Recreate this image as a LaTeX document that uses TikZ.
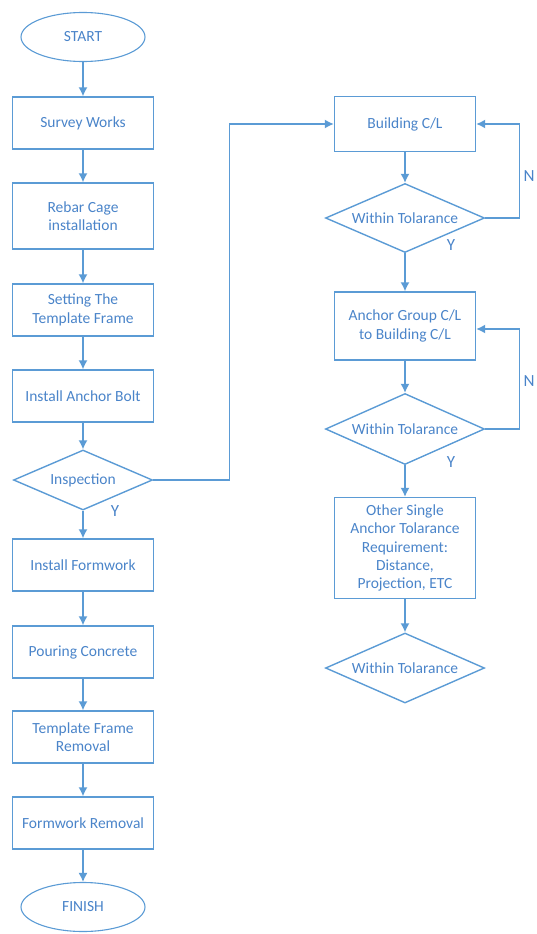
\documentclass[tikz,border=0pt]{standalone}
\usepackage{fontspec}
\setmainfont{Carlito}
\usetikzlibrary{shapes.geometric,arrows.meta}
\definecolor{lineblue}{HTML}{5B9BD5}
\definecolor{textblue}{HTML}{4A84C9}
\begin{document}
\begin{tikzpicture}[
	x=1pt, y=-1pt,
	every node/.style={ text=textblue, font=\fontsize{15.5}{18.3}\selectfont },
	block/.style={ rectangle, draw=lineblue, line width=1.4pt, align=center, minimum width=141pt, minimum height=52pt, inner sep=2pt },
	decision/.style={ diamond, aspect=2.3, draw=lineblue, line width=1.4pt, inner sep=0pt, minimum width=159pt, minimum height=69pt },
	terminal/.style={ ellipse, draw=lineblue, line width=1.1pt, inner sep=0pt, minimum width=124pt, minimum height=49pt },
	flow/.style={ draw=lineblue, line width=1.4pt, -{Latex[length=9pt,width=9pt]} },
	yn/.style={ font=\fontsize{17}{20}\selectfont }
]
\useasboundingbox (0,0) rectangle (536,934);

% left column
\node at (83,37) (start) [terminal] {START};
\node at (83,123) (survey) [block] {Survey Works};
\node at (83,216) (rebar) [block,minimum height=66pt] {Rebar Cage\\installation};
\node at (83,310) (setting) [block] {Setting The\\Template Frame};
\node at (83,396) (anchor) [block] {Install Anchor Bolt};
\node at (83,480) (insp) [decision,aspect=2.32,minimum width=139pt,minimum height=60pt] {Inspection};
\node at (83,565) (formwork) [block] {Install Formwork};
\node at (83,652) (pour) [block] {Pouring Concrete};
\node at (83,737) (tfremove) [block] {Template Frame\\Removal};
\node at (83,823) (fwremove) [block] {Formwork Removal};
\node at (83,907) (finish) [terminal] {FINISH};
\node at (115,511) (yinsp) [yn] {Y};

% right column
\node at (405,124) (bcl) [block,minimum height=55pt] {Building C/L};
\node at (405,218) (wt1) [decision] {Within Tolarance};
\node at (405,326) (agcl) [block,minimum height=68pt] {Anchor Group C/L\\to Building C/L};
\node at (405,429) (wt2) [decision,minimum height=71pt] {Within Tolarance};
\node at (405,548) (other) [block,minimum height=101pt] {Other Single\\Anchor Tolarance\\Requirement:\\Distance,\\Projection, ETC};
\node at (405,668) (wt3) [decision,minimum height=70pt] {Within Tolarance};
\node at (451,245) (ywt1) [yn] {Y};
\node at (451,462) (ywt2) [yn] {Y};
\node at (529,176) (nwt1) [yn] {N};
\node at (529,381) (nwt2) [yn] {N};

\draw[flow] (start) -- (survey);
\draw[flow] (survey) -- (rebar);
\draw[flow] (rebar) -- (setting);
\draw[flow] (setting) -- (anchor);
\draw[flow] (anchor) -- (insp);
\draw[flow] (insp) -- (formwork);
\draw[flow] (formwork) -- (pour);
\draw[flow] (pour) -- (tfremove);
\draw[flow] (tfremove) -- (fwremove);
\draw[flow] (fwremove) -- (finish);
\draw[flow] (insp.east) -- ++(76,0) |- (bcl.west);
\draw[flow] (bcl) -- (wt1);
\draw[flow] (wt1.east) -- ++(34,0) |- (bcl.east);
\draw[flow] (wt1) -- (agcl);
\draw[flow] (agcl) -- (wt2);
\draw[flow] (wt2.east) -- ++(34,0) |- ([yshift=-3pt]agcl.east);
\draw[flow] (wt2) -- (other);
\draw[flow] (other) -- (wt3);

\end{tikzpicture}
\end{document}
